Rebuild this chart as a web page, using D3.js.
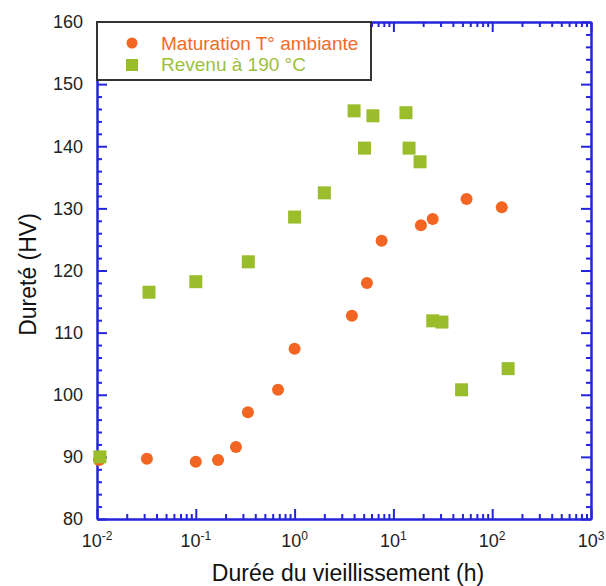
<!DOCTYPE html>
<html>
<head>
<meta charset="utf-8">
<script src="https://cdn.jsdelivr.net/npm/d3@7"></script>
<style>
  body { margin: 0; background: #fff; }
  svg text { font-family: "Liberation Sans", Arial, sans-serif; }
</style>
</head>
<body>
<div id="chart"></div>
<script>
// Maturation at room temperature (orange dots)
var matHours = [0.0105, 0.032, 0.1, 0.168, 0.255, 0.337, 0.68, 1.0, 3.8, 5.4, 7.6, 19, 25, 55, 125];
var matHV    = [89.5, 89.7, 89.2, 89.5, 91.6, 97.2, 100.8, 107.4, 112.7, 118.0, 124.8, 127.3, 128.3, 131.5, 130.2];
// Tempering at 190 °C (green squares)
var revHours = [0.0107, 0.0336, 0.1, 0.34, 1.0, 2.0, 4.0, 6.2, 5.1, 13.4, 14.4, 18.6, 25, 31, 49, 145];
var revHV    = [90.0, 116.5, 118.2, 121.4, 128.6, 132.5, 145.7, 144.9, 139.7, 145.4, 139.7, 137.5, 111.9, 111.7, 100.8, 104.2];

var xExponents = [-2, -1, 0, 1, 2, 3];
var yTicks = [80, 90, 100, 110, 120, 130, 140, 150, 160];
var legendLabels = ["Maturation T° ambiante", "Revenu à 190 °C"];

var W = 606, H = 586;
var pLeft = 97, pRight = 591, pTop = 22, pBottom = 519;
var axisColor = "#2424dc";
var orange = "#f26522", green = "#9abd2c";

var x = d3.scaleLog().domain([0.01, 1000]).range([pLeft, pRight]);
var y = d3.scaleLinear().domain([80, 160]).range([pBottom, pTop]);

var svg = d3.select("#chart").append("svg")
  .attr("width", W)
  .attr("height", H);

// minor ticks
var xMinor = [];
xExponents.slice(0, -1).forEach(function(e) {
  for (var k = 2; k <= 9; k++) xMinor.push(k * Math.pow(10, e));
});
var xMajor = xExponents.map(function(e) { return Math.pow(10, e); });
var yMinor = d3.range(82, 160, 2).filter(function(v) { return v % 10 !== 0; });

function drawAxis(axisFn, scale, pos, majors, minors) {
  var g = svg.append("g").attr("transform", pos);
  g.call(axisFn(scale).tickValues(minors).tickSizeInner(-5).tickSizeOuter(0).tickFormat(""));
  g.append("g").call(axisFn(scale).tickValues(majors).tickSizeInner(-10).tickSizeOuter(0).tickFormat(""));
  g.selectAll("path.domain").attr("stroke", axisColor).attr("stroke-width", 2);
  g.selectAll(".tick line").attr("stroke", axisColor).attr("stroke-width", 2);
  return g;
}

drawAxis(d3.axisBottom, x, "translate(0," + pBottom + ")", xMajor, xMinor);
drawAxis(d3.axisTop, x, "translate(0," + pTop + ")", xMajor, xMinor);
drawAxis(d3.axisLeft, y, "translate(" + pLeft + ",0)", yTicks, yMinor);
drawAxis(d3.axisRight, y, "translate(" + pRight + ",0)", yTicks, yMinor);

// x tick labels, 10 with exponent
var xl = svg.append("g").selectAll("text")
  .data(xExponents)
  .enter().append("text")
  .attr("x", function(e) { return x(Math.pow(10, e)); })
  .attr("y", 547)
  .attr("text-anchor", "middle")
  .attr("fill", "#222")
  .style("font-size", "18px");
xl.append("tspan").text("10");
xl.append("tspan")
  .attr("dy", -7)
  .style("font-size", "12px")
  .text(function(e) { return e; });

// y tick labels
svg.append("g").selectAll("text")
  .data(yTicks)
  .enter().append("text")
  .attr("x", 83)
  .attr("y", function(d) { return y(d); })
  .attr("dy", "0.35em")
  .attr("text-anchor", "end")
  .attr("fill", "#222")
  .style("font-size", "18px")
  .text(function(d) { return d; });

// axis titles
svg.append("text")
  .attr("x", (pLeft + pRight) / 2 + 4)
  .attr("y", 581)
  .attr("text-anchor", "middle")
  .attr("fill", "#111")
  .style("font-size", "23px")
  .text("Durée du vieillissement (h)");

svg.append("text")
  .attr("transform", "translate(36," + ((pTop + pBottom) / 2 + 4) + ") rotate(-90)")
  .attr("text-anchor", "middle")
  .attr("fill", "#111")
  .style("font-size", "23px")
  .text("Dureté (HV)");

// legend box
var leg = svg.append("g");
leg.append("rect")
  .attr("x", pLeft).attr("y", pTop)
  .attr("width", 274).attr("height", 58)
  .attr("fill", "#fff")
  .attr("stroke", "#333")
  .attr("stroke-width", 2);

// data points
svg.append("g").selectAll("circle")
  .data(d3.zip(matHours, matHV))
  .enter().append("circle")
  .attr("cx", function(d) { return x(d[0]); })
  .attr("cy", function(d) { return y(d[1]); })
  .attr("r", 6)
  .attr("fill", orange);

svg.append("g").selectAll("rect")
  .data(d3.zip(revHours, revHV))
  .enter().append("rect")
  .attr("x", function(d) { return x(d[0]) - 6.5; })
  .attr("y", function(d) { return y(d[1]) - 6.5; })
  .attr("width", 13)
  .attr("height", 13)
  .attr("fill", green);

// legend entries
leg.append("circle").attr("cx", 132).attr("cy", 43).attr("r", 5.5).attr("fill", orange);
leg.append("rect").attr("x", 126).attr("y", 59).attr("width", 12).attr("height", 12).attr("fill", green);
leg.append("text")
  .attr("x", 161).attr("y", 50)
  .attr("fill", "#f26a2a")
  .style("font-size", "19px")
  .text(legendLabels[0]);
leg.append("text")
  .attr("x", 161).attr("y", 71)
  .attr("fill", "#9cc03a")
  .style("font-size", "19px")
  .text(legendLabels[1]);
</script>
</body>
</html>
